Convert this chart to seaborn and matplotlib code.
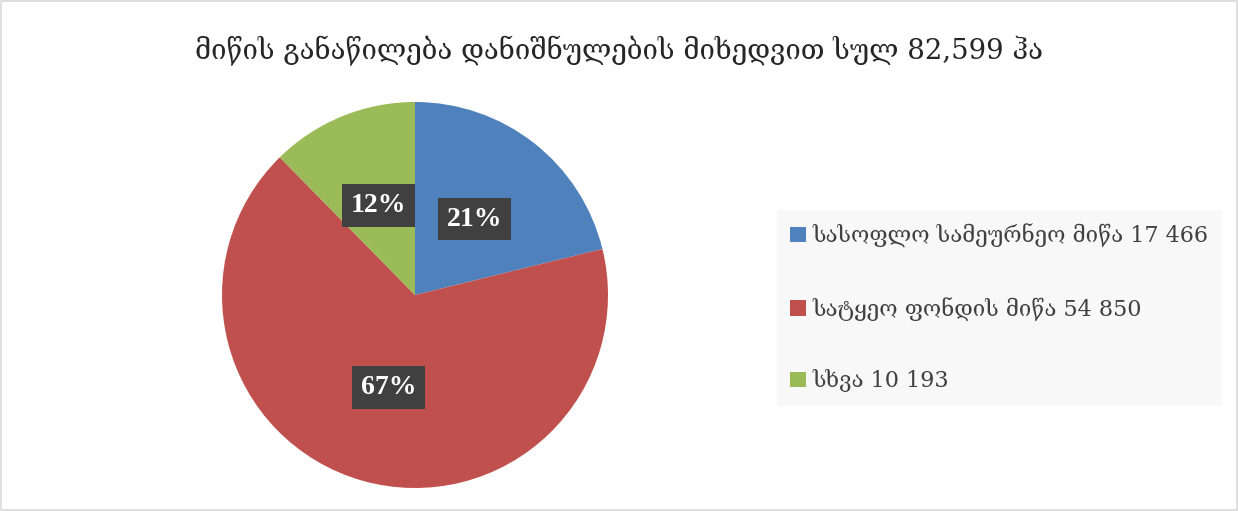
import numpy as np
import matplotlib
matplotlib.use('Agg')
import matplotlib.pyplot as plt
import seaborn as sns
from matplotlib.patches import Rectangle

title = 'მიწის განაწილება დანიშნულების მიხედვით სულ 82,599 ჰა'
categories = ['სასოფლო სამეურნეო მიწა 17 466',
              'სატყეო ფონდის მიწა 54 850',
              'სხვა 10 193']
values = [17466, 54850, 10193]
pct_labels = ['21%', '67%', '12%']
colors = ['#4F81BD', '#C0504D', '#9BBB59']

sns.set_theme(style='white')
plt.rcParams['font.family'] = ['Liberation Serif', 'DejaVu Serif']

fig = plt.figure(figsize=(12.38, 5.11), dpi=100)
fig.patch.set_facecolor('white')
fig.add_artist(Rectangle((0.001, 0.001), 0.998, 0.997, transform=fig.transFigure,
                         fill=False, ec='#D9D9D9', lw=1.2))

# pie centred at (415, 295) px, radius ~193 px
ax = fig.add_axes([(415 - 193) / 1238, (511 - 295 - 193) / 511, 386 / 1238, 386 / 511])
it = iter(pct_labels)
wedges, texts, autotexts = ax.pie(
    values, colors=sns.color_palette(colors), startangle=90, counterclock=False,
    autopct=lambda p: next(it), pctdistance=0.5,
    wedgeprops=dict(linewidth=0),
)
for t in autotexts:
    t.set_color('white')
    t.set_fontsize(20)
    t.set_fontweight('bold')
    t.set_bbox(dict(boxstyle='square,pad=0.32', fc='#404040', ec='none'))
ax.set_xlim(-1, 1)
ax.set_ylim(-1, 1)

fig.suptitle(title, x=0.5, y=0.93, fontsize=19.8, color='#262626',
             family=['DejaVu Serif'])

leg = fig.legend(wedges, categories, loc='center left',
                 bbox_to_anchor=(777 / 1238, 1 - 308 / 511),
                 frameon=True, fancybox=False, borderaxespad=0,
                 prop=dict(family=['DejaVu Serif'], size=16),
                 handlelength=0.7, handleheight=0.7, handletextpad=0.3,
                 labelspacing=2.2, borderpad=0.6, labelcolor='#404040')
leg.get_frame().set_facecolor('#F8F8F8')
leg.get_frame().set_edgecolor('none')
leg.get_frame().set_alpha(1)

fig.savefig('out.png', dpi=100)
